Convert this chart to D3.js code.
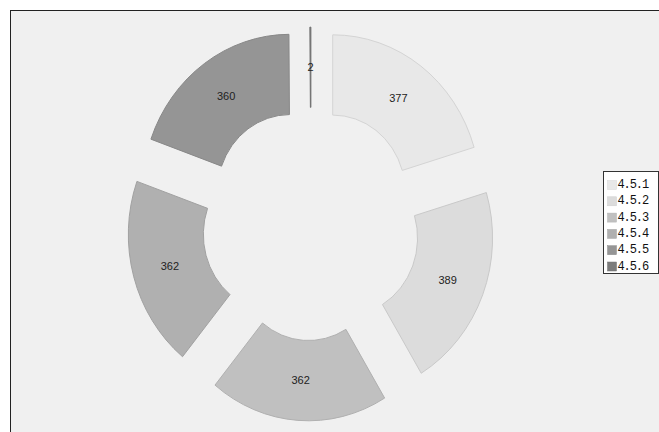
<!DOCTYPE html>
<html>
<head>
<meta charset="utf-8">
<script src="https://cdn.jsdelivr.net/npm/d3@7"></script>
<style>
  body { margin: 0; background: #fff; }
</style>
</head>
<body>
<div id="chart"></div>
<script>
// Ring chart data
const categories = ["4.5.1", "4.5.2", "4.5.3", "4.5.4", "4.5.5", "4.5.6"];
const values = [377, 389, 362, 362, 360, 2];
const colors = ["#e8e8e8", "#dcdcdc", "#c0c0c0", "#b0b0b0", "#959595", "#7c7c7c"];

const W = 659, H = 432;
const cx = 311, cy = 224;
const outerR = 147.6, innerR = 72.6;
const explode = 36.4;
const ky = 1.07; // plot is slightly stretched vertically

const svg = d3.select("#chart")
    .append("svg")
    .attr("width", W)
    .attr("height", H);

// plot background + frame
svg.append("rect")
    .attr("x", 10.5)
    .attr("y", 10.5)
    .attr("width", W)
    .attr("height", H)
    .attr("fill", "#f0f0f0")
    .attr("stroke", "#222")
    .attr("stroke-width", 1);

const color = d3.scaleOrdinal()
    .domain(categories)
    .range(colors);

const pie = d3.pie()
    .sort(null)
    .value(d => d.value);

const arc = d3.arc()
    .innerRadius(innerR)
    .outerRadius(outerR);

const pieData = pie(categories.map((c, i) => ({ label: c, value: values[i] })));

const offset = d => {
    const mid = (d.startAngle + d.endAngle) / 2;
    return [explode * Math.sin(mid), -explode * Math.cos(mid)];
};

const ring = svg.append("g")
    .attr("transform", `translate(${cx},${cy}) scale(1,${ky})`);

ring.selectAll("path")
    .data(pieData)
    .enter()
    .append("path")
    .attr("transform", d => `translate(${offset(d)[0]},${offset(d)[1]})`)
    .attr("d", arc)
    .attr("fill", d => color(d.data.label))
    .attr("stroke", d => d3.color(color(d.data.label)).darker(0.25))
    .attr("stroke-width", 1)
    .attr("vector-effect", "non-scaling-stroke");

// value labels (kept outside the scaled group so text isn't stretched)
svg.selectAll(".val")
    .data(pieData)
    .enter()
    .append("text")
    .attr("class", "val")
    .attr("x", d => cx + arc.centroid(d)[0] + offset(d)[0])
    .attr("y", d => cy + (arc.centroid(d)[1] + offset(d)[1]) * ky)
    .attr("text-anchor", "middle")
    .attr("dominant-baseline", "central")
    .attr("font-family", "Liberation Sans, Arial, sans-serif")
    .attr("font-size", 11)
    .attr("fill", "#222")
    .text(d => d.data.value);

// legend
const legend = svg.append("g")
    .attr("transform", "translate(603.5,171.5)");

legend.append("rect")
    .attr("width", 55)
    .attr("height", 102)
    .attr("fill", "#fff")
    .attr("stroke", "#333");

const items = legend.selectAll(".item")
    .data(categories)
    .enter()
    .append("g")
    .attr("class", "item")
    .attr("transform", (d, i) => `translate(0,${13.5 + i * 16.3})`);

items.append("rect")
    .attr("x", 4)
    .attr("y", -4.5)
    .attr("width", 9)
    .attr("height", 9)
    .attr("fill", d => color(d))
    .attr("stroke", d => d3.color(color(d)).darker(0.2))
    .attr("stroke-width", 0.5);

items.append("text")
    .attr("x", 14)
    .attr("y", 0)
    .attr("dominant-baseline", "central")
    .attr("font-family", "Liberation Mono, monospace")
    .attr("font-size", 12)
    .attr("letter-spacing", -1.1)
    .attr("fill", "#111")
    .text(d => d);
</script>
</body>
</html>
